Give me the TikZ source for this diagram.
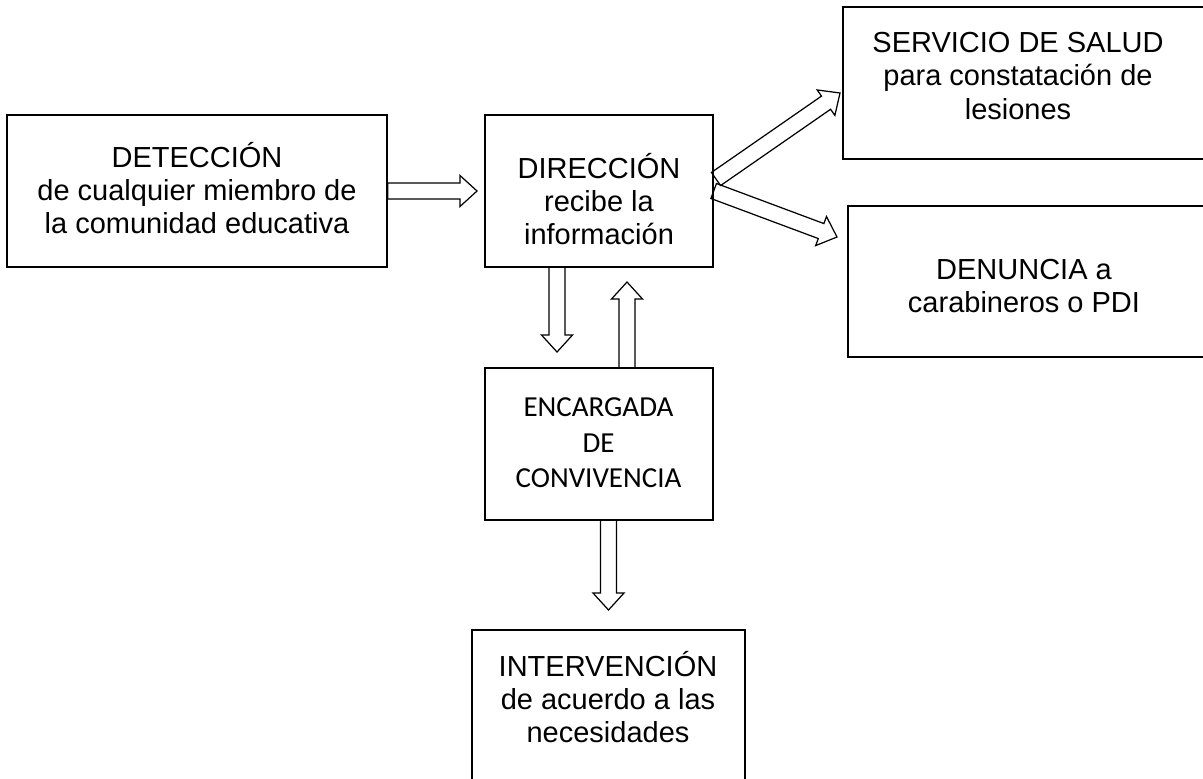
\documentclass[tikz,border=0pt]{standalone}
\usepackage{fontspec}
\setmainfont{Liberation Sans}
\newfontfamily\calibrifont{Carlito}
\usepackage{tikz}
\usetikzlibrary{calc}
\tikzstyle{Box}=[draw=black,line width=0.8pt,inner sep=0pt,rectangle]
\tikzstyle{Text}=[align=center,inner sep=0pt,
font=\fontsize{16.5}{19}\selectfont]
\tikzstyle{TextC}=[align=center,inner sep=0pt,
font=\calibrifont\fontsize{16.5}{20.2}\selectfont]
\tikzstyle{Edge}=[draw=black,line width=0.7pt,line join=miter]
% hollow block arrow from #1 to #2
\newcommand{\BlockArrow}[2]{%
  \coordinate (h) at ($(#2)!0.34cm!(#1)$);
  \draw[Edge] ($(#1)!0.16cm!90:(#2)$) -- ($(h)!0.16cm!-90:(#1)$)
    -- ($(h)!0.31cm!-90:(#1)$) -- (#2) -- ($(h)!0.31cm!90:(#1)$)
    -- ($(h)!0.16cm!90:(#1)$) -- ($(#1)!0.16cm!-90:(#2)$) -- cycle;}

\begin{document}
\begin{tikzpicture}[x=0.02cm,y=-0.02cm]
        \useasboundingbox (0,0) rectangle (1203,778);
        \node[Box,minimum width=7.6cm,minimum height=3.04cm](detec)at(197,191){};
        \node[Box,minimum width=4.56cm,minimum height=3.04cm](direc)at(599,191){};
        \node[Box,minimum width=7.34cm,minimum height=3.04cm](salud)at(1026.5,83){};
        \node[Box,minimum width=7.24cm,minimum height=3.02cm](denun)at(1029,281.5){};
        \node[Box,minimum width=4.56cm,minimum height=3.04cm](encar)at(599,444){};
        \node[Box,minimum width=5.46cm,minimum height=3.04cm](interv)at(608.5,706){};
        \node[Text](detec-t)at(197,188){DETECCIÓN\\de cualquier miembro de\\la comunidad educativa};
        \node[Text](direc-t)at(599,199){DIRECCIÓN\\recibe la\\información};
        \node[Text](salud-t)at(1018,76){SERVICIO DE SALUD\\para constatación de\\lesiones};
        \node[Text](denun-t)at(1024,286){DENUNCIA a\\carabineros o PDI};
        \node[TextC](encar-t)at(598.5,443){ENCARGADA\\DE\\CONVIVENCIA};
        \node[Text](interv-t)at(608,697){INTERVENCIÓN\\de acuerdo a las\\necesidades};
        \coordinate(t1)at(477,191);
        \coordinate(s2)at(716,179);
        \coordinate(t2)at(840,93);
        \coordinate(t3)at(837,237);
        \coordinate(s4)at(557,267);
        \coordinate(t4)at(557,352);
        \coordinate(s5)at(627,368);
        \coordinate(t5)at(627,282);
        \coordinate(s6)at(608.5,520);
        \coordinate(t6)at(608.5,610);
        \BlockArrow{detec.east}{t1}
        \BlockArrow{s2}{t2}
        \BlockArrow{direc.east}{t3}
        \BlockArrow{s4}{t4}
        \BlockArrow{s5}{t5}
        \BlockArrow{s6}{t6}
    \end{tikzpicture}
\end{document}
